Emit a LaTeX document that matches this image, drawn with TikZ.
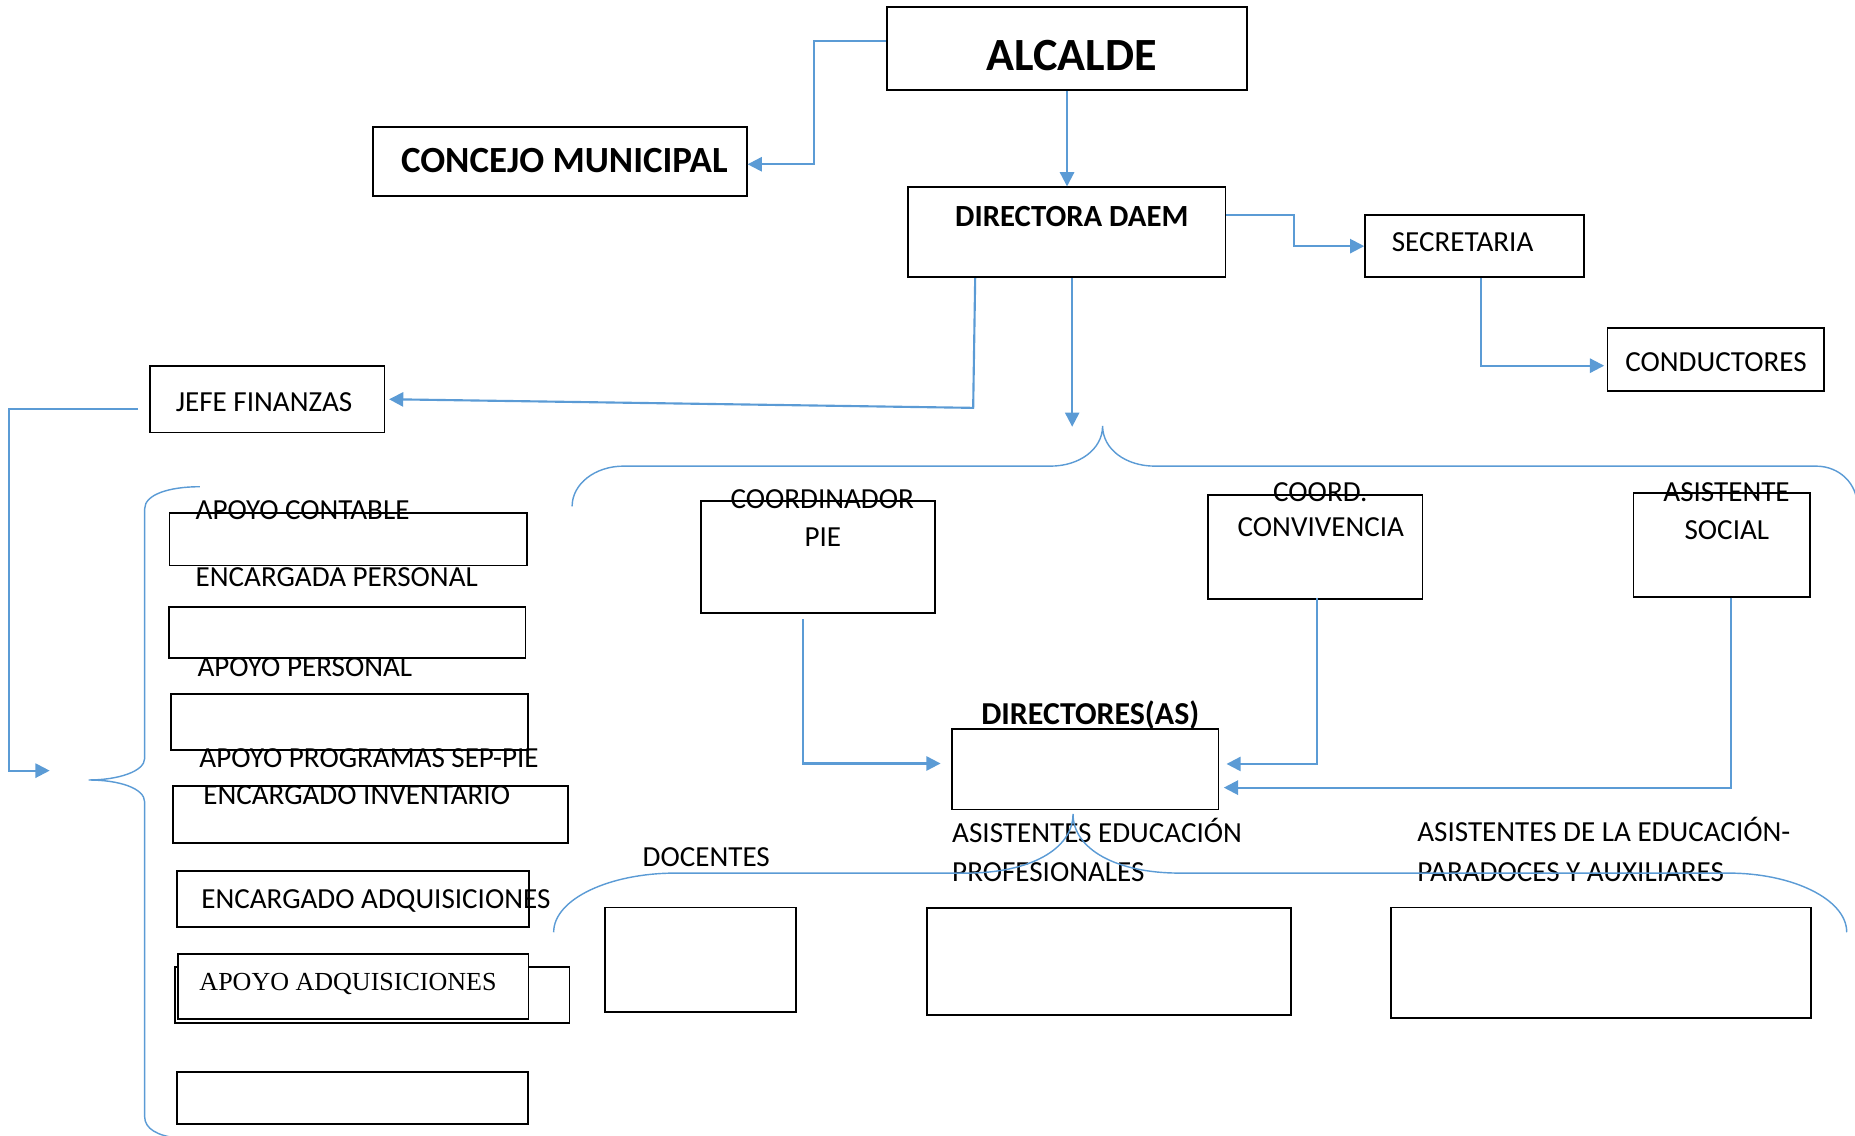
\documentclass[tikz,border=0pt]{standalone}
\usepackage{fontspec}
\setmainfont{Carlito}
\newfontfamily\tnr{Liberation Serif}
\usetikzlibrary{arrows.meta,fit}
\definecolor{bl}{HTML}{5B9BD5}
\tikzset{
  bx/.style={draw=black, line width=0.75pt, inner sep=0pt},
  txt/.style={inner sep=0pt, font=\fontsize{12.3}{14}\selectfont},
  conn/.style={draw=bl, line width=0.9pt, -{Triangle[length=6pt,width=6pt]}},
  brc/.style={draw=bl, line width=0.6pt}
}
\newcommand\mkbox[5]{\node[bx, fit={(#2,#3) (#4,#5)}] (#1) {};}
\begin{document}
\begin{tikzpicture}[x=0.5pt,y=-0.5pt]
\useasboundingbox (0,0) rectangle (1568,960);
% boxes
\mkbox{alc}{749.6}{6.2}{1054.3}{76.1}
\mkbox{con}{315.3}{107.6}{631.2}{165.7}
\mkbox{dir}{767.5}{158.3}{1035.9}{234.4}
\mkbox{sec}{1153.9}{181.7}{1338.6}{234.4}
\mkbox{cond}{1358.7}{277}{1541.6}{330.2}
\mkbox{jf}{127.1}{309.4}{325.1}{365.5}
\mkbox{ba}{143.3}{433.4}{445.5}{477.9}
\mkbox{bb}{142.7}{512.8}{444.2}{556.5}
\mkbox{bc}{144.3}{586.6}{446.1}{634}
\mkbox{bd}{146.2}{664.4}{479.8}{712.3}
\mkbox{be}{149.5}{736}{447.4}{783.3}
\mkbox{bfback}{147.8}{817.1}{481.4}{864.5}
\node[bx, fill=white, fit={(150.4,806.4) (446.8,861.1)}] (bf) {};
\mkbox{bg}{149.5}{906.4}{446.1}{950.4}
\mkbox{pie}{592.4}{423.2}{790.2}{517.9}
\mkbox{conv}{1020.8}{418.2}{1202.4}{506.6}
\mkbox{soc}{1380.7}{417}{1530.1}{504.4}
\mkbox{dirs}{804.5}{616.5}{1029.9}{684.2}
\mkbox{doc}{511.7}{767}{673}{855.2}
\mkbox{prof}{783.4}{767.8}{1091.4}{858}
\mkbox{aux}{1175.5}{767}{1530.7}{860.3}
% texts
\node[txt, anchor=base, font=\fontsize{19.5}{22}\selectfont\bfseries] (talc) at (906,59.4) {ALCALDE};
\node[txt, anchor=base, font=\fontsize{15.6}{18}\selectfont\bfseries] (tcon) at (477,145.7) {CONCEJO MUNICIPAL};
\node[txt, anchor=base, font=\fontsize{13}{15}\selectfont\bfseries] (tdir) at (906,191.6) {DIRECTORA DAEM};
\node[txt, anchor=base west] (tsec) at (1176.1,213) {SECRETARIA};
\node[txt, anchor=base] (tcond) at (1450.5,313.6) {CONDUCTORES};
\node[txt, anchor=base west] (tjf) at (148.2,347.7) {JEFE FINANZAS};
\node[txt, anchor=base] (tpie1) at (695,429.9) {COORDINADOR};
\node[txt, anchor=base] (tpie2) at (695.5,462.3) {PIE};
\node[txt, anchor=base] (tconv1) at (1116,423.5) {COORD.};
\node[txt, anchor=base] (tconv2) at (1116.5,453.5) {CONVIVENCIA};
\node[txt, anchor=base] (tsoc1) at (1459.4,424.2) {ASISTENTE};
\node[txt, anchor=base] (tsoc2) at (1459.7,455.6) {SOCIAL};
\node[txt, anchor=base, font=\fontsize{13.5}{15}\selectfont\bfseries] (tdirs) at (921.6,612) {DIRECTORES(AS)};
\node[txt, anchor=base] (tdoc) at (597,732.8) {DOCENTES};
\node[txt, anchor=base west] (tprof1) at (804.5,712.4) {ASISTENTES EDUCACIÓN};
\node[txt, anchor=base west] (tprof2) at (804.5,744.7) {PROFESIONALES};
\node[txt, anchor=base west] (taux1) at (1197.6,711.6) {ASISTENTES DE LA EDUCACIÓN-};
\node[txt, anchor=base west] (taux2) at (1197.6,744.7) {PARADOCES Y AUXILIARES};
\node[txt, anchor=base west] (tba) at (165,439) {APOYO CONTABLE};
\node[txt, anchor=base west] (tbb) at (165,496) {ENCARGADA PERSONAL};
\node[txt, anchor=base west] (tbc) at (166.6,571.4) {APOYO PERSONAL};
\node[txt, anchor=base west] (tbd1) at (168.2,648.6) {APOYO PROGRAMAS SEP-PIE};
\node[txt, anchor=base west] (tbd2) at (171.5,680.2) {ENCARGADO INVENTARIO};
\node[txt, anchor=base west] (tbe) at (169.8,767.7) {ENCARGADO ADQUISICIONES};
\node[txt, anchor=base west, font=\fontsize{11}{13}\tnr] (tbf) at (168.2,837.3) {APOYO ADQUISICIONES};
% connectors
\coordinate (bt) at (906.3,360.7);
\coordinate (lt) at (42,651.4);
\draw[conn] ([yshift=3.2pt]alc.west) -- ++(-60.7,0) |- ([yshift=-1.1pt]con.east);
\draw[conn] (alc.south) -- (alc.south |- dir.north);
\draw[conn] ([yshift=7.3pt]dir.east) -- ++(56.9,0) |- (sec.west);
\draw[conn] ([xshift=2.7pt]sec.south) |- ([yshift=-2.75pt,xshift=-1pt]cond.west);
\draw[conn] ([xshift=-38.7pt]dir.south) -- ++(-1.7,109.6) -- ([xshift=1.5pt]jf.east);
\draw[conn] (dir.south -| bt) -- (bt);
\draw[conn] ([xshift=-4.85pt,yshift=-4pt]jf.west) -- ++(-108.7,0) |- (lt);
\draw[conn] ([xshift=-6.2pt,yshift=-2.4pt]pie.south) |- ([xshift=-4.35pt,yshift=2.5pt]dirs.west);
\draw[conn] ([xshift=0.95pt,yshift=1.1pt]conv.south) |- ([xshift=3.05pt,yshift=2.3pt]dirs.east);
\draw[conn] ([xshift=3.85pt]soc.south) |- ([xshift=1.9pt,yshift=-7.7pt]dirs.east);
% braces
\draw[brc] (483.6,428) .. controls (483.6,409) and (503,394) .. (527,394) -- (888,394)
  .. controls (912,394) and (932,380) .. (932,360)
  .. controls (932,380) and (952,394) .. (976,394) -- (1535,394)
  .. controls (1555,394) and (1570,409) .. (1570,428);
\draw[brc] (468,788) .. controls (468,760) and (515,738) .. (571,738) -- (817,738)
  .. controls (870,738) and (907,718) .. (907,688)
  .. controls (907,718) and (944,738) .. (997,738) -- (1461,738)
  .. controls (1515,738) and (1561,760) .. (1561,788);
\draw[brc] (169,411.4) .. controls (143,411.4) and (122.3,418) .. (122.3,430) -- (122.3,641)
  .. controls (122.3,652) and (100,659.3) .. (75,659.3)
  .. controls (100,659.3) and (122.3,666) .. (122.3,678) -- (122.3,944)
  .. controls (122.3,954) and (133,960) .. (150,962);
\end{tikzpicture}
\end{document}
